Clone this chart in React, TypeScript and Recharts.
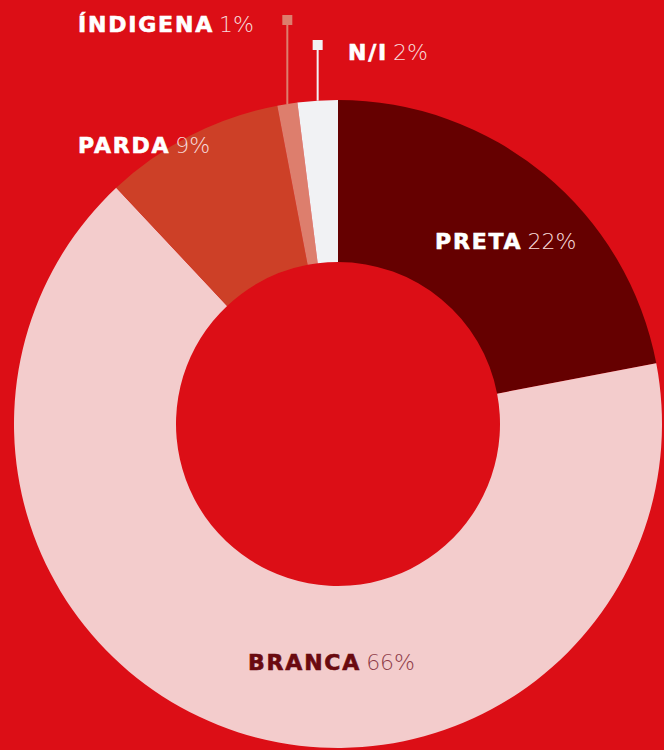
import React from 'react';
import { PieChart, Pie, Cell } from 'recharts';

const categories = ['PRETA', 'BRANCA', 'PARDA', 'ÍNDIGENA', 'N/I'];
const values = [22, 66, 9, 1, 2];
const percentLabels = ['22%', '66%', '9%', '1%', '2%'];
const sliceColors = ['#650000', '#F3CCCC', '#CD4027', '#DD7E6D', '#F1F2F4'];
const nameColors = ['#FFFFFF', '#6A0A10', '#FFFFFF', '#FFFFFF', '#FFFFFF'];
const pctColors = ['#F7DADA', '#8E3B48', '#F7DADA', '#F7DADA', '#F7DADA'];

// label placement relative to pie centre (dx, dy to text start / baseline)
const labelOffsets = [
  { dx: 97, dy: -175 },
  { dx: -90, dy: 246 },
  { dx: -260, dy: -271 },
  { dx: -260, dy: -392 },
  { dx: 10, dy: -364 },
];
// leader line for small slices: top y of marker relative to centre (null = none)
const leaderTops = [null, null, null, -409, -384];

const data = categories.map((c, i) => ({ name: c, value: values[i] }));

const RAD = Math.PI / 180;

const renderLabel = (props: any) => {
  const { cx, cy, midAngle, outerRadius, index } = props;
  const off = labelOffsets[index];
  const x = cx + off.dx;
  const y = cy + off.dy;
  const lt = leaderTops[index];
  let leader = null;
  if (lt !== null) {
    const lx = cx + outerRadius * Math.cos(-midAngle * RAD);
    const ly = cy + outerRadius * Math.sin(-midAngle * RAD);
    const top = cy + lt;
    leader = (
      <g>
        <line x1={lx} y1={ly} x2={lx} y2={top + 8} stroke={sliceColors[index]} strokeWidth={2} />
        <rect x={lx - 5} y={top} width={10} height={10} fill={sliceColors[index]} />
      </g>
    );
  }
  return (
    <g key={`lbl-${index}`}>
      {leader}
      <text x={x} y={y} textAnchor="start">
        <tspan
          fontFamily="'DejaVu Sans', sans-serif"
          fontWeight={700}
          fontSize={22}
          letterSpacing={1.8}
          fill={nameColors[index]}
          stroke={nameColors[index]}
          strokeWidth={0.6}
        >
          {categories[index]}
        </tspan>
        <tspan
          dx={5}
          fontFamily="'DejaVu Sans', sans-serif"
          fontWeight={200}
          fontSize={22}
          fill={pctColors[index]}
        >
          {percentLabels[index]}
        </tspan>
      </text>
    </g>
  );
};

export default function App() {
  return (
    <div
      style={{
        position: 'absolute',
        left: 0,
        top: 0,
        width: 664,
        height: 750,
        background: '#DC0E16',
        overflow: 'hidden',
      }}
    >
      <PieChart width={664} height={750} margin={{ top: 0, right: 0, bottom: 0, left: 0 }}>
        <Pie
          data={data}
          dataKey="value"
          nameKey="name"
          cx={338}
          cy={424}
          innerRadius={162}
          outerRadius={324}
          startAngle={90}
          endAngle={-270}
          stroke="none"
          isAnimationActive={false}
          labelLine={false}
          label={renderLabel}
        >
          {data.map((d, i) => (
            <Cell key={d.name} fill={sliceColors[i]} />
          ))}
        </Pie>
      </PieChart>
    </div>
  );
}
